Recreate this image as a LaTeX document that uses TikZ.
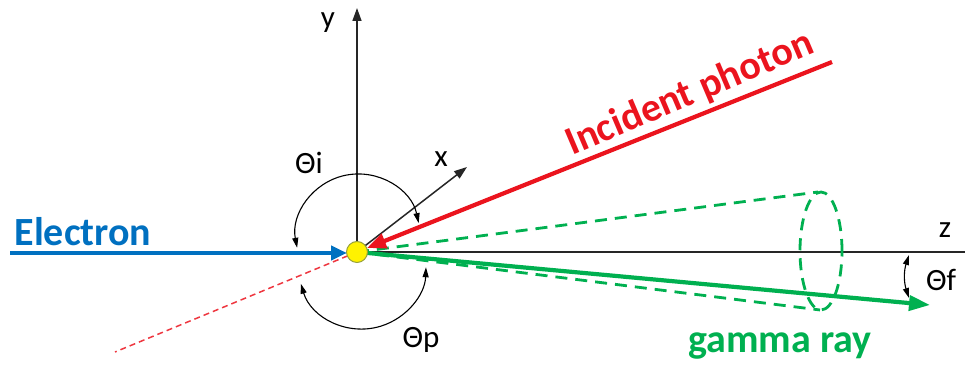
\documentclass[tikz,border=0pt]{standalone}
\usepackage{fontspec}
\setmainfont{Carlito}
\usetikzlibrary{arrows.meta}
\definecolor{eblue}{RGB}{0,112,192}
\definecolor{pred}{RGB}{235,20,30}
\definecolor{ggreen}{RGB}{0,176,80}
\definecolor{ballrim}{RGB}{150,160,60}
\tikzset{
  axis/.style={line width=1.5pt, black!85},
  anglearc/.style={line width=1.1pt, black, {Triangle[length=10pt,width=6pt]}-{Triangle[length=10pt,width=6pt]}},
  lbl/.style={font=\fontsize{31}{34}\selectfont, inner sep=0pt},
  biglbl/.style={font=\fontsize{40}{44}\selectfont\bfseries, inner sep=0pt},
  beam/.style={line width=4.2pt},
  cone/.style={ggreen, line width=2.8pt, dash pattern=on 12pt off 8pt}
}
\begin{document}
\begin{tikzpicture}[x=1pt,y=1pt]
\useasboundingbox (0,0) rectangle (967,366);
\coordinate (O) at (357,114);
\coordinate (ytop) at (357,358);
\coordinate (xtip) at (467,199);
\coordinate (zend) at (965,114);
\coordinate (estart) at (10,113);
\coordinate (pstart) at (832,304);
\coordinate (dashend) at (115,14);
\coordinate (ctop) at (818,174);
\coordinate (cbot) at (820,56);
\coordinate (gtip) at (930,61);
\coordinate (fa) at (909,111);
\coordinate (fb) at (909,68);
% axes
\draw[axis] (O) -- (zend);
\draw[axis, -{Triangle[length=13pt,width=9pt]}] (O) -- (ytop);
\draw[axis, -{Triangle[length=13pt,width=9pt]}] (O) -- (xtip);
% red dashed continuation
\draw[pred!85, line width=1.5pt, dash pattern=on 6pt off 4pt] (O) -- (dashend);
% cone
\draw[cone] (O) -- (ctop);
\draw[cone] (O) -- (cbot);
\draw[cone] (821,115) ellipse[x radius=21, y radius=59];
% beams
\draw[beam, eblue, -{Triangle[length=16pt,width=14pt]}] (estart) -- (347,113);
\draw[beam, pred, -{Triangle[length=19pt,width=15pt]}] (pstart) -- (367,118);
\draw[beam, ggreen, -{Triangle[length=21pt,width=15pt]}] (O) -- (gtip);
% ball
\node[circle, fill=yellow, draw=ballrim, line width=1pt, minimum size=21pt, inner sep=0pt] (ball) at (O) {};
% angle arcs
\draw[anglearc] (358,130) ++(12:62) arc[start angle=12, end angle=191, radius=62];
\draw[anglearc] (362,101) ++(197:64) arc[start angle=197, end angle=358, radius=64];
\draw[anglearc] (fa) to[bend right=18] (fb);
% labels
\node[lbl] (ly) at (328,343) {y};
\node[lbl] (lx) at (441,207) {x};
\node[lbl] (lz) at (945,136) {z};
\node[lbl] (ti) at (309,203) {Θi};
\node[lbl] (tp) at (421,26) {Θp};
\node[lbl] (tf) at (941,86) {Θf};
\node[biglbl, text=eblue] (lel) at (83,134) {Electron};
\node[biglbl, text=pred, rotate=23] (lph) at (690,272) {Incident photon};
\node[biglbl, text=ggreen] (lg) at (780,20) {gamma ray};
\end{tikzpicture}
\end{document}
